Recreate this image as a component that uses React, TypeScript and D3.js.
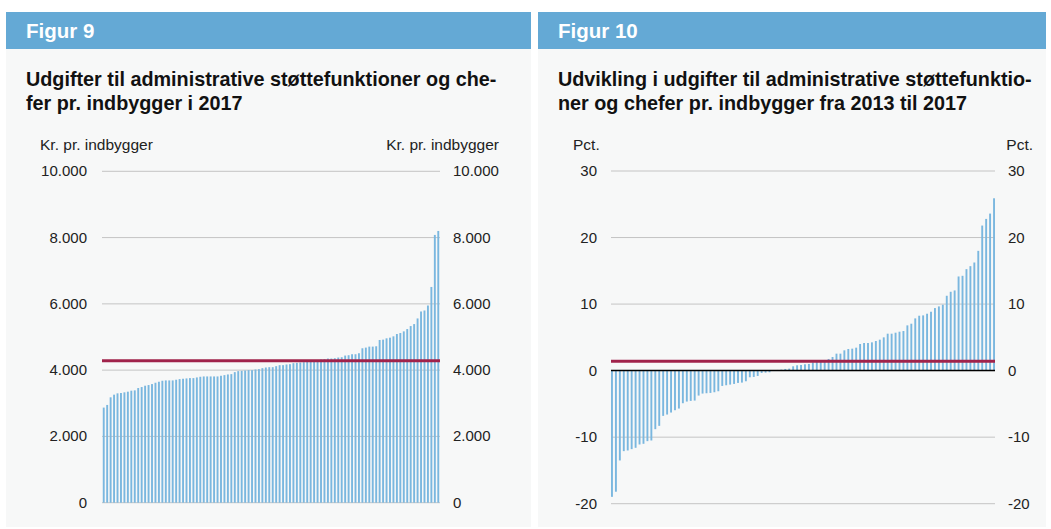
import React from "react";
import * as d3 from "d3";

// Figur 9: kr. pr. indbygger 2017, sorteret stigende (98 kommuner)
const udgifter2017 = [
  2870, 2950, 3180, 3260, 3300, 3310, 3330, 3350, 3380, 3390, 3460, 3490, 3530, 3550,
  3580, 3620, 3650, 3680, 3690, 3690, 3690, 3710, 3730, 3740, 3750, 3760, 3760, 3780,
  3800, 3810, 3810, 3810, 3810, 3810, 3830, 3850, 3870, 3880, 3940, 3970, 3980, 3990,
  4000, 4000, 4020, 4030, 4060, 4080, 4090, 4090, 4120, 4150, 4150, 4170, 4180, 4210,
  4220, 4230, 4240, 4250, 4260, 4270, 4290, 4320, 4330, 4350, 4350, 4360, 4380, 4390,
  4440, 4450, 4480, 4480, 4510, 4660, 4680, 4710, 4710, 4720, 4910, 4920, 4960, 4980,
  5020, 5090, 5120, 5170, 5240, 5330, 5390, 5560, 5770, 5800, 5950, 6510, 8080, 8200,
];
const gennemsnit2017 = [4285];
const ticks9 = [0, 2000, 4000, 6000, 8000, 10000];

// Figur 10: udvikling i pct. 2013-2017, sorteret stigende
const udvikling = [
  -18.97, -18.2, -13.5, -12.1, -12.0, -11.8, -11.6, -11.1, -11.0, -10.6, -10.5, -8.8,
  -8.3, -6.8, -6.6, -6.3, -5.95, -5.7, -4.9, -4.65, -4.55, -4.5, -3.75, -3.45, -3.4,
  -3.35, -3.25, -3.1, -2.3, -2.2, -2.1, -2.0, -1.85, -1.8, -1.6, -1.0, -0.95, -0.8,
  -0.35, -0.3, -0.25, 0.05, 0.1, 0.15, 0.25, 0.3, 0.65, 0.8, 0.85, 0.95, 1.0, 1.25,
  1.4, 1.55, 1.6, 1.75, 2.05, 2.55, 2.55, 3.05, 3.25, 3.3, 3.45, 4.0, 4.15, 4.15, 4.25,
  4.45, 4.65, 5.0, 5.55, 5.55, 5.7, 5.85, 5.95, 6.8, 7.05, 7.85, 8.25, 8.3, 8.55, 8.85,
  9.4, 9.65, 9.9, 11.25, 11.85, 12.05, 14.15, 14.25, 15.25, 15.7, 16.25, 18.0, 21.8,
  22.8, 23.6, 25.9,
];
const gennemsnitUdvikling = [1.4];
const ticks10 = [-20, -10, 0, 10, 20, 30];

const BLUE_HEAD = "#64a9d5";
const BAR = "#7ab7df";
const RED = "#a0234b";
const GRID = "#c4c4c4";
const PANEL = "#f7f8f8";
const FONT = "'Liberation Sans', Arial, Helvetica, sans-serif";

const dk = d3.formatLocale({
  decimal: ",",
  thousands: ".",
  grouping: [3],
  currency: ["", " kr."],
  minus: "-",
});
const fmt = dk.format(",");

interface PanelProps {
  x: number;
  width: number;
  figur: string;
  titel: string[];
  enhed: string;
  values: number[];
  avg: number;
  ticks: number[];
  domain: [number, number];
  plot: [number, number];
  gridX: [number, number];
  yRange: [number, number];
  leftLabelX: number;
  rightLabelX: number;
  unitLeftX: number;
  unitRightX: number;
  zeroBlack?: boolean;
}

const Panel: React.FC<PanelProps> = (p) => {
  const x = d3
    .scaleBand<number>()
    .domain(p.values.map((_, i) => i))
    .range(p.plot);
  const y = d3.scaleLinear().domain(p.domain).range(p.yRange);
  const bw = 1.9;

  return (
    <g>
      <rect x={p.x} y={12} width={p.width} height={37} fill={BLUE_HEAD} />
      <rect x={p.x} y={49} width={p.width} height={478} fill={PANEL} />
      <text x={p.x + 20} y={38} fill="#fff" fontSize={20.5} fontWeight="bold">
        {p.figur}
      </text>
      {p.titel.map((t, i) => (
        <text key={i} x={p.x + 20} y={86 + i * 23.5} fontSize={19.8} fontWeight="bold" fill="#111">
          {t}
        </text>
      ))}
      <text x={p.unitLeftX} y={150} fontSize={15.5} fill="#222">
        {p.enhed}
      </text>
      <text x={p.unitRightX} y={150} fontSize={15.5} fill="#222" textAnchor="end">
        {p.enhed}
      </text>

      {p.ticks.map((t) => (
        <g key={t}>
          <line
            x1={p.gridX[0]}
            x2={p.gridX[1]}
            y1={y(t)}
            y2={y(t)}
            stroke={GRID}
            strokeWidth={1}
          />
          <text x={p.leftLabelX} y={y(t) + 5} fontSize={15} fill="#222" textAnchor="end">
            {fmt(t)}
          </text>
          <text x={p.rightLabelX} y={y(t) + 5} fontSize={15} fill="#222">
            {fmt(t)}
          </text>
        </g>
      ))}

      {p.values.map((v, i) => (
        <rect
          key={i}
          x={(x(i) ?? 0) + x.bandwidth() / 2 - bw / 2}
          y={y(Math.max(0, v))}
          width={bw}
          height={Math.abs(y(v) - y(0))}
          fill={BAR}
        />
      ))}
      {p.zeroBlack && (
        <line x1={p.gridX[0]} x2={p.gridX[1]} y1={y(0)} y2={y(0)} stroke="#000" strokeWidth={1.5} />
      )}
      <line
        x1={p.gridX[0]}
        x2={p.gridX[1]}
        y1={y(p.avg)}
        y2={y(p.avg)}
        stroke={RED}
        strokeWidth={3}
      />
    </g>
  );
};

export default function App() {
  return (
    <svg
      width={1051}
      height={529}
      style={{ position: "absolute", left: 0, top: 0, fontFamily: FONT }}
    >
      <rect width={1051} height={529} fill="#fff" />
      <Panel
        x={6}
        width={525}
        figur="Figur 9"
        titel={[
          "Udgifter til administrative støttefunktioner og che-",
          "fer pr. indbygger i 2017",
        ]}
        enhed="Kr. pr. indbygger"
        values={udgifter2017}
        avg={gennemsnit2017[0]}
        ticks={ticks9}
        domain={[0, 10000]}
        plot={[102, 440]}
        gridX={[102, 440]}
        yRange={[502.7, 171.3]}
        leftLabelX={87}
        rightLabelX={453}
        unitLeftX={40}
        unitRightX={499}
      />
      <Panel
        x={538}
        width={508}
        figur="Figur 10"
        titel={[
          "Udvikling i udgifter til administrative støttefunktio-",
          "ner og chefer pr. indbygger fra 2013 til 2017",
        ]}
        enhed="Pct."
        values={udvikling}
        avg={gennemsnitUdvikling[0]}
        ticks={ticks10}
        domain={[-20, 30]}
        plot={[610, 996]}
        gridX={[611, 995]}
        yRange={[503.7, 171]}
        leftLabelX={597}
        rightLabelX={1008}
        unitLeftX={573}
        unitRightX={1033}
        zeroBlack
      />
    </svg>
  );
}
